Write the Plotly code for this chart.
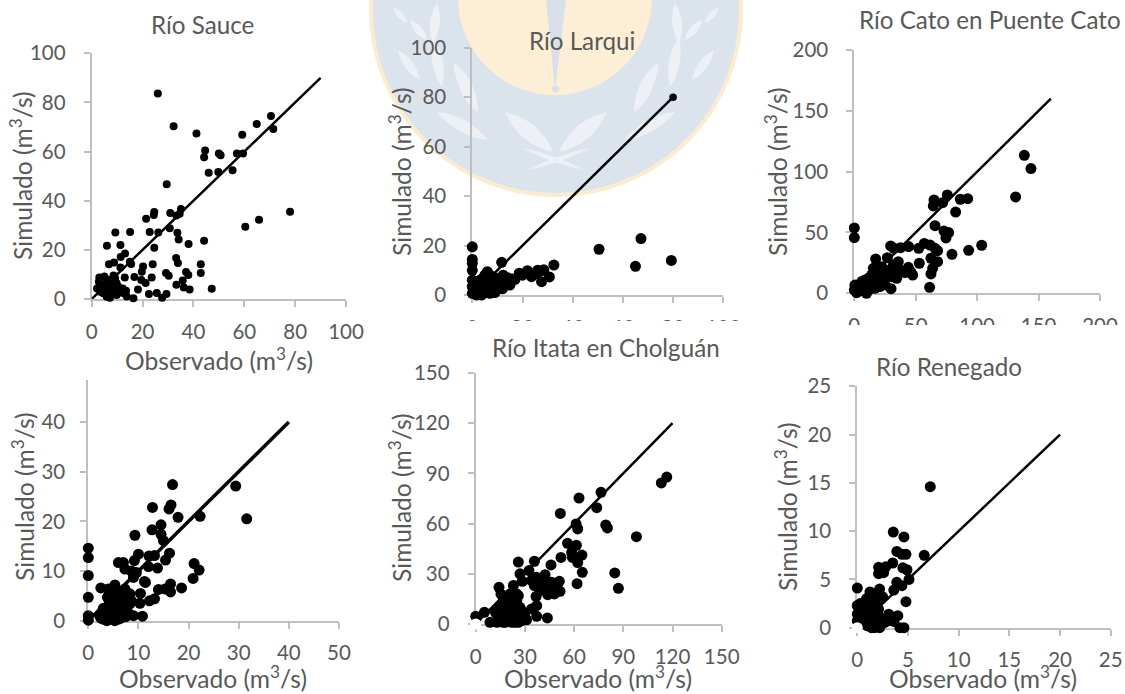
import plotly.graph_objects as go

W, H = 1125, 694

# ---------- data ----------
sauce_obs = [26,32.2,41.2,70.5,64.9,71.4,59.2,44.6,44.2,50,50.7,57.1,59.5,46,49.8,55.4,29.5,78,65.8,60.4,24.6,24.4,21.4,30.9,35.1,34.6,33.3,9.3,15.1,22.8,26.2,30.7,33.7,34.2,44.2,38.1,24.6,6,11.3,13.1,11.4,33.2,33.9,42.9,24,15.5,15,8.8,6.8,11.3,20.2,19.7,37.1,42.9,38,29.2,30.3,23.6,16.8,13,8.6,19.5,21.2,35.8,33.3,36.2,38.5,47.2,18.2,22.5,25.6,29.4,27.7,16.4,13.8,
             3,5,2.8,2.1,3.9,5.6,7.2,9.2,9.8,10.5,12.2,13.5,3.3,4.6,5.9,7.2,8.5,9.8,11.1,12.7,6.6,7.9,9.2,5.2,6.6]
sauce_sim = [83.6,70.3,67.4,74.5,71.2,69.2,66.8,60.4,57.7,59.2,58.5,59.2,59.2,51.4,51.7,52.4,46.7,35.5,32.3,29.4,35.4,34.2,32.7,35,36.6,34.7,34,27.1,27.3,27.3,27.1,28.8,27,24.2,23.7,22.4,20.9,21.7,22,18.5,17.1,16.7,14.7,14.1,14.1,14.2,15.2,14.9,14.1,12.8,13.2,11.1,11,10.6,9.8,10.6,9.5,8.8,9,8.7,9.6,7.7,6.5,7.5,5.8,4.7,3.9,4.2,3.9,2,2.4,2,0.5,0.3,1,
             8.7,9.2,7,4.3,5.7,6.4,7.7,8.4,6.4,5,4.3,3.4,3,2.3,0.9,0.5,2.3,1.6,2.6,2.3,3.7,5,3.7,4.3,6.4]

larqui_obs = [80,0,0,0,0,0,0,0,11.7,6,7,50.5,67.2,65,79.3,32.5,30.7,27.2,27.6,25.9,23.6,22,18.7,17,15,12.3,13.7,11,9,
              1,2.4,3.7,5,6.4,7.7,9,10.4,4.4,6.4,7.7,2.4,3.7,5,1,1.7,7,8.4,11.7,9.7,
              0.5,1.5,2.5,3,3.5,4.5,5.5,6,7,8,8.5,9.5,2,3,4,5,6,7,8,9,6,5,4,1,10.5,12,13,14,16,20,24,26,28.5]
larqui_sim = [80,19.5,14.4,12.8,10,6,3.4,0.7,13.2,9.4,8,18.5,22.8,11.6,14,12.1,7.3,9.7,5.4,8.8,7.4,9.8,8.8,6.3,4,8,4.7,4,1,
              2,0.7,0,1,2,3.4,5.4,6.7,3.4,5.4,7.4,3.4,4.7,6,0.7,0,0.7,2,6,3.4,
              1.5,3,1.5,3,1,2,3,1,2.5,1.5,4,2.5,5,6,4,4.5,4,5,6,7,7.5,8,6.5,4,3,2.5,5.5,7,6.5,8,8.5,10,10.2]

cato_obs = [138.4,143.8,131.3,0,0,75.7,64.9,64.3,71.9,86.3,92.3,82.5,65.7,73,76.8,74.6,103.7,93.1,79.5,57,61.6,65.7,67.8,52.4,44.2,37.7,29.6,32.3,62.4,67.8,52.9,63.8,62.4,61.3,17.4,26.9,35.8,31.8,44,45.9,47.5,41.2,34.5,29.9,15.5,22.3,26.3,30.4,19.5,22.3,
            0,0.5,1.9,6,8.7,10,11.4,14.1,16.8,4.6,8.7,12.8,18.2,16.8,20.9,14,
            2,3,5,6,7,8,9,10,11,12,13,14,15,16,17,18,19,20,21,22,23,24,25,27,28,30,32,36,38,18,13]
cato_sim = [113.4,102.5,79.2,53.7,45.8,80.8,76.7,71.8,74.5,77.3,77.8,66.8,55.6,51.2,49.9,45.5,39.5,35.3,32,41,39.7,37,35,37,38.4,37.5,38.9,37,28.8,26,24.7,20.5,15.9,4.9,28.2,29.3,26,23.3,21.4,17.8,15,17,12.3,3.8,20.5,21.9,16.4,13.7,13.7,8.2,
            2.7,6.8,0.5,9.6,5.5,0,12.3,8.2,4.1,4.1,11,5.5,8.2,15,5.5,15,
            3,6,2,6,2,8,3,6,9,3,11,5,10,7,12,5,10,15,8,13,18,11,7,14,19,17,19,20,18,18,7]

p4_obs = [16.8,29.4,31.6,22.3,17.9,12.8,16.5,16.1,12.7,14.5,14.5,15,9.3,16.2,15.4,13.2,12.1,10,9.2,6,7,7.3,8.6,9.6,9,12,13.8,21.1,22.1,20.9,18.6,16.4,16.4,15.3,14,11.2,11.4,10.4,10.3,12.2,13.2,10.8,9,
          0,0,0,0,0,0,2.5,5.3,4,3.8,7.3,8.3,8.6,
          2.3,3,3.7,4.3,5.3,6,7,7.5,3.7,4.7,5.7,6.6,5.3,6.3,4.7,3,5.7,4.3,
          2.5,3,3.5,4,4,4.5,5,5,5.5,5.5,6,6,6.5,6.5,7,7,7.5,8,4.2,6,7.2,5,2.8,8.3]
p4_sim = [27.4,27.1,20.5,21,20.8,22.8,23.3,22.5,18.3,19.3,17.4,16.1,17.2,13.6,12.2,13.1,13,13.4,12.1,11.7,11.7,10.4,10,9.7,8.7,10.9,10.6,11.5,10.2,8.5,6.6,7.4,5.8,6.4,6.3,7.9,7.7,5.5,3.5,4,4.4,0.9,1,
          14.6,12.7,9.1,4.7,1,0.1,6.6,7.2,6.4,4.7,6.4,5.4,4,
          1,0.3,0,0.7,0,1,1.3,0.8,2,2.7,3,2.3,4,4.7,1.3,1.7,5.7,3.7,
          0.5,2.5,1,0.2,2,3,0.7,2,1,3.5,0.3,2,3.5,0.5,2,3.5,2,1.5,5.5,6,5.3,5,1.2,3.4]

itata_obs = [116.5,113.2,98,84.8,87,76.4,63,73.8,51.6,79.3,80.3,61.2,62.2,56,61.4,64.8,58.5,59,52,62.2,65,61.8,45.9,35.8,26,32.5,42.3,27,37,28.5,23,51,46.3,51.4,48.4,43.9,41.3,35.8,14.2,15.4,26,36.8,37.2,34.1,37.2,43.7,0,5.3,8.7,
             13.8,15.9,16.9,18.9,19.9,22,23,26,30,28,25,19,21,14.8,16.9,24,20,17,27,
             13,14,15,16,17,18,18,19,20,20,21,22,22,23,23,24,25,26,27,28,29,25,21,17,12,24,31,38,42,44,39,34,46,48]
itata_sim = [87.8,84.3,52.2,30.5,21.3,78.7,75.3,69.5,66.1,59.2,57.4,59.8,56.8,48.2,47,41.2,42.8,39.8,39.8,36.7,30.9,24.1,35.3,37.5,37,31.9,29.5,30,28,25.5,23,25.5,24.9,19.5,20,17.5,21.9,22.9,21.9,17.9,16.9,16.5,11,9,4.6,3.6,4.6,7,1,
             4,2,8,12,16,10,2,1,4.4,8,14,5,3,10,1,6,8,14,4,
             1,5,8,12,3,1,7,10,3,13,6,1,14,5,9,12,3,7,10,2,6,18,18,16,7,1,2.5,24,25,22,20,26,20,18]

renegado_obs = [7.2,3.55,4.6,3.9,4.4,4.8,6.6,3.5,2.1,2.8,2.1,2.6,4.5,4.9,5.1,3.9,4.4,3.6,4.8,0,2.2,1.25,1.7,0.3,0,3.1,4,3.6,4.2,4.6,
                0,0.4,0.9,1.6,2.1,0.8,1.25,1.7,0.9,1.4,1.9,2.4,2.7,1.25,1.7,2.2,0.3,0,
                0.5,0.7,1,1.3,1.2,1.6,1.9,2,1,1.5,2.3,0.4,0.9,1.3,1.8,2.5,3,1.6]
renegado_sim = [14.6,9.9,9.4,7.9,7.6,7.6,7.5,6.7,6.25,6.3,5.6,5.7,6.2,6,5,4.7,4.35,3.9,2.7,4.1,4,3.7,3.1,2.5,2.3,1.4,1.25,0.65,0,0,
                1.4,1.8,2.1,2.3,1.9,1.2,1.4,1.1,0.55,0,0.4,0.4,0.55,0.7,0,0,0.7,0.7,
                0.4,1,1.7,0.9,2.5,1.6,1,2.6,0.2,0.5,1,2.3,3,2,2.2,3.2,0.7,3.4]

AXIS_TITLE_X = "Observado (m<sup>3</sup>/s)"
AXIS_TITLE_Y = "Simulado (m<sup>3</sup>/s)"
TEXT = "#595959"
FONT = "Lato"
AXIS = "#bfbfbf"
TICK_SIZE = 20.5
TITLE_SIZE = 24.2
AXIS_TITLE_SIZE = 24.6

panels = [
    dict(title="Río Sauce", obs=sauce_obs, sim=sauce_sim, vmax=100, dtick=20, line_end=90, box=(91.7, 346, 53.3, 299), msize=8, lw=2.5,
         tpos=(202, 24), xt=(219, 359), yt=(21, 176), ylab=14),
    dict(title="Río Larqui", obs=larqui_obs, sim=larqui_sim, vmax=100, dtick=20, line_end=80, box=(472.3, 723.3, 47.7, 295), msize=11, lw=2.5,
         tpos=(581.7, 40), xt=None, yt=(400, 172), ylab=14),
    dict(title="Río Cato en Puente Cato", obs=cato_obs, sim=cato_sim, vmax=200, dtick=50, line_end=160, box=(854.3, 1100, 50, 293.3), msize=11, lw=2.5,
         tpos=(990, 20), xt=None, yt=(776, 172), ylab=14),
    dict(title=None, obs=p4_obs, sim=p4_sim, vmax=50, dtick=10, line_end=40, box=(88.3, 339, 372.3, 620.7), msize=11, lw=3.5,
         tpos=None, xt=(213, 677), yt=(23, 497), ylab=11),
    dict(title="Río Itata en Cholguán", obs=itata_obs, sim=itata_sim, vmax=150, dtick=30, line_end=120, box=(475.7, 721.7, 373, 624), msize=11, lw=2.5,
         tpos=(606, 347), xt=(598, 677), yt=(400, 498), ylab=14),
    dict(title="Río Renegado", obs=renegado_obs, sim=renegado_sim, vmax=25, dtick=5, line_end=20, box=(857.3, 1110.7, 386.3, 627.7), msize=11, lw=2.5,
         tpos=(949, 366), xt=(983, 677), yt=(786, 507), ylab=14),
]

def px(x):
    return x / W

def py(y):
    return 1 - y / H

fig = go.Figure()
layout = dict(
    template="none",
    width=W, height=H, autosize=False,
    margin=dict(l=0, r=0, t=0, b=0, pad=0),
    paper_bgcolor="white", plot_bgcolor="rgba(0,0,0,0)",
    showlegend=False,
    font=dict(family=FONT, color=TEXT, size=TICK_SIZE),
)
annotations, shapes = [], []

# ---------- watermark behind the charts ----------
CX, CY = 556, 10

def circle(cx, cy, r, color):
    return dict(type="circle", xref="paper", yref="paper", layer="below",
                x0=px(cx - r), x1=px(cx + r), y0=py(cy + r), y1=py(cy - r),
                fillcolor=color, line=dict(width=0))

def path(d, color):
    return dict(type="path", xref="paper", yref="paper", layer="below", path=d,
                fillcolor=color, line=dict(width=0))

def leaf(a, b, bulge):
    mx, my = (a[0] + b[0]) / 2, (a[1] + b[1]) / 2
    dx, dy = b[0] - a[0], b[1] - a[1]
    n = (dx * dx + dy * dy) ** 0.5
    nx, ny = -dy / n, dx / n
    c1 = (mx + nx * bulge, my + ny * bulge)
    c2 = (mx - nx * bulge, my - ny * bulge)
    return (f"M {px(a[0])} {py(a[1])} Q {px(c1[0])} {py(c1[1])} {px(b[0])} {py(b[1])} "
            f"Q {px(c2[0])} {py(c2[1])} {px(a[0])} {py(a[1])} Z")

shapes.append(circle(CX, CY, 187, "#fbeccf"))
shapes.append(circle(CX, CY, 183, "#dbe3ed"))
leaves = [((553, 152), (505, 112), 16), ((488, 140), (437, 112), 12), ((478, 113), (455, 63), 13),
          ((442, 87), (433, 37), 11), ((398, 50), (420, 80), 9), ((437, 3), (433, 43), 10),
          ((453, 63), (467, 90), 7), ((410, 20), (427, 40), 8), ((393, 7), (407, 23), 6),
          ((528, 170), (590, 148), 5)]
for a, b, bul in leaves:
    shapes.append(path(leaf(a, b, bul), "#edf0f4"))
    shapes.append(path(leaf((2 * CX - a[0], a[1]), (2 * CX - b[0], b[1]), bul), "#edf0f4"))
shapes.append(circle(CX - 1, -2, 97, "#fdeed6"))
shapes.append(path(f"M {px(546)} {py(0)} L {px(555)} {py(90)} L {px(566)} {py(0)} Z", "#d8e1ea"))
shapes.append(circle(555.5, 89, 3.5, "#d8e1ea"))

def note(text, x, y, size, angle=0):
    annotations.append(dict(text=text, xref="paper", yref="paper", showarrow=False,
                            x=px(x), y=py(y), xanchor="center", yanchor="middle", textangle=angle,
                            font=dict(family=FONT, color=TEXT, size=size)))

# ---------- panels ----------
for i, p in enumerate(panels, start=1):
    xa = "x" if i == 1 else f"x{i}"
    ya = "y" if i == 1 else f"y{i}"
    xl, xr, yt, yb = p["box"]
    line_vals = [0, p["line_end"]]
    fig.add_trace(go.Scatter(x=line_vals, y=line_vals, mode="lines", xaxis=xa, yaxis=ya,
                             line=dict(color="black", width=p["lw"]), cliponaxis=False, name="1:1"))
    sizes = [7.5 if (o == 80 and s == 80) else p["msize"] for o, s in zip(p["obs"], p["sim"])]
    fig.add_trace(go.Scatter(x=p["obs"], y=p["sim"], mode="markers", xaxis=xa, yaxis=ya,
                             marker=dict(color="black", size=sizes, opacity=1, line=dict(width=0)),
                             cliponaxis=False, name=p["title"] or "Simulado"))
    if i >= 5:  # small white notch at the origin of the last two charts
        fig.add_trace(go.Scatter(x=[0], y=[0], mode="markers", xaxis=xa, yaxis=ya,
                                 marker=dict(color="white", size=11, opacity=1, line=dict(width=0)),
                                 cliponaxis=False, name="origen"))
    ticks = list(range(0, p["vmax"] + 1, p["dtick"]))
    common = dict(range=[0, p["vmax"]], tickvals=ticks, ticktext=[str(t) for t in ticks],
                  showgrid=False, zeroline=False, showline=True, linecolor=AXIS, linewidth=2,
                  ticks="outside", ticklen=6, tickwidth=1.5, tickcolor=AXIS, automargin=False,
                  tickfont=dict(family=FONT, color=TEXT, size=TICK_SIZE),
                  layer="below traces")
    key_x = "xaxis" if i == 1 else f"xaxis{i}"
    key_y = "yaxis" if i == 1 else f"yaxis{i}"
    layout[key_x] = dict(domain=[px(xl), px(xr)], anchor=ya, ticklabelstandoff=7, **common)
    layout[key_y] = dict(domain=[py(yb), py(yt)], anchor=xa, ticklabelstandoff=p["ylab"], **common)
    if p["title"]:
        note(p["title"], p["tpos"][0], p["tpos"][1], TITLE_SIZE)
    if p["xt"]:
        note(AXIS_TITLE_X, p["xt"][0], p["xt"][1], AXIS_TITLE_SIZE)
    note(AXIS_TITLE_Y, p["yt"][0], p["yt"][1], AXIS_TITLE_SIZE, angle=-90)

# white patches where neighbouring pictures were cropped in the original
for x0, x1, y0, y1 in [(465, 745, 321, 345), (845, 1125, 325, 348), (30, 95, 350, 380)]:
    shapes.append(dict(type="rect", xref="paper", yref="paper", layer="above",
                       x0=px(x0), x1=px(x1), y0=py(y1), y1=py(y0),
                       fillcolor="white", line=dict(width=0)))

layout["annotations"] = annotations
layout["shapes"] = shapes
fig.update_layout(**layout)

fig.write_html("out.html", config=dict(displayModeBar=False),
               post_script="document.body.style.margin='0';document.body.style.overflow='hidden';")
